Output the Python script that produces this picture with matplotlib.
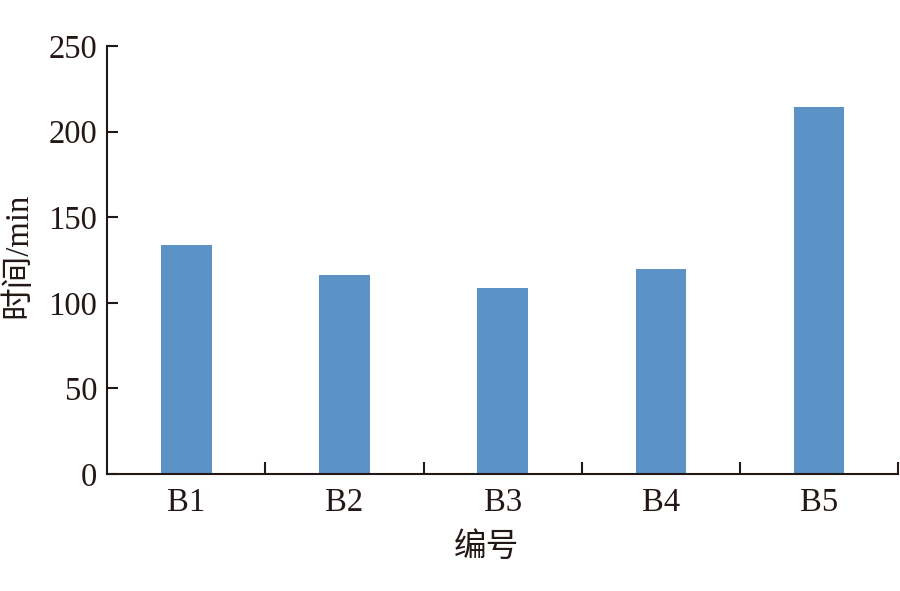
import matplotlib
matplotlib.use('Agg')
import matplotlib.pyplot as plt

categories = ['B1', 'B2', 'B3', 'B4', 'B5']
times_min = [134, 116, 108.5, 120, 214.5]
y_ticks = [0, 50, 100, 150, 200, 250]

plt.rcParams['font.family'] = ['Liberation Serif', 'Noto Sans CJK SC']
ink = '#231815'

fig = plt.figure(figsize=(9, 5.91), dpi=100)
ax = fig.add_axes([0.119, 0.198, 0.879, 0.724])

x = list(range(len(categories)))
ax.bar(x, times_min, width=0.32, color='#5B93C7')

ax.set_xlim(-0.5, len(categories) - 0.5)
ax.set_ylim(0, 250)
ax.set_yticks(y_ticks)
ax.set_xticks(x)
ax.set_xticklabels(categories)
ax.set_xticks([i + 0.5 for i in x], minor=True)

ax.spines['top'].set_visible(False)
ax.spines['right'].set_visible(False)
for s in ['left', 'bottom']:
    ax.spines[s].set_linewidth(1.5)
    ax.spines[s].set_color(ink)

ax.tick_params(axis='y', direction='in', length=8, width=1.5, labelsize=23.5, color=ink, labelcolor=ink, pad=7)
ax.tick_params(axis='x', which='major', length=0, labelsize=23.5, labelcolor=ink, pad=10)
ax.tick_params(axis='x', which='minor', direction='in', length=9, width=1.5, color=ink)

ax.set_xlabel('编号', fontsize=23.5, color=ink)
ax.set_ylabel('时间/min', fontsize=23.5, color=ink)
ax.xaxis.set_label_coords(0.479, -0.137)
ax.yaxis.set_label_coords(-0.093, 0.51)

fig.savefig('out.png', dpi=100)
